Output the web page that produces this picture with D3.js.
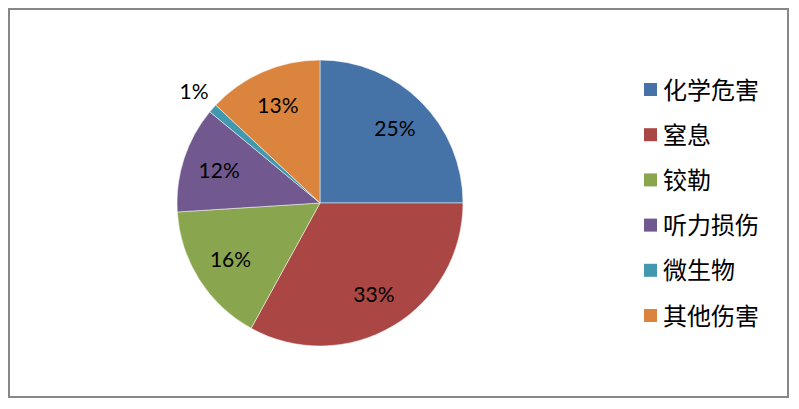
<!DOCTYPE html>
<html><head><meta charset="utf-8">
<script src="https://cdn.jsdelivr.net/npm/d3@7/dist/d3.min.js"></script>
<style>body{margin:0;background:#fff}</style>
</head><body>
<script>
const categories = ["化学危害","窒息","铰勒","听力损伤","微生物","其他伤害"];
const values = [25, 33, 16, 12, 1, 13];
const colors = ["#4572A7","#AA4643","#89A54E","#71588F","#4198AF","#DB843D"];

const W = 799, H = 409;
const svg = d3.select("body").append("svg").attr("width", W).attr("height", H);
svg.append("rect").attr("x", 9).attr("y", 9).attr("width", 779).attr("height", 388)
  .attr("fill", "#fff").attr("stroke", "#878787").attr("stroke-width", 2);

const cx = 320, cy = 203, R = 143;
const data = categories.map((c, i) => ({c, v: values[i], col: colors[i]}));
const pie = d3.pie().value(d => d.v).sort(null);
const arcs = pie(data);
const arc = d3.arc().innerRadius(0).outerRadius(R);
const g = svg.append("g").attr("transform", `translate(${cx},${cy})`);
g.selectAll("path").data(arcs).join("path").attr("d", arc).attr("fill", d => d.data.col)
  .attr("stroke", "#fff").attr("stroke-width", 0.5);

const labIn = d3.arc().innerRadius(106).outerRadius(106);
const labOut = d3.arc().innerRadius(168).outerRadius(168);
g.selectAll("text").data(arcs).join("text")
  .attr("transform", d => `translate(${(d.data.v < 5 ? labOut : labIn).centroid(d)})`)
  .attr("text-anchor", "middle").attr("dy", "0.36em")
  .attr("font-family", "Lato, 'Open Sans', sans-serif").attr("font-size", 21).attr("fill", "#000")
  .text(d => d.data.v + "%");

const lg = svg.append("g");
data.forEach((d, i) => {
  const y = 90 + i * 45.2;
  lg.append("rect").attr("x", 644).attr("y", y - 7).attr("width", 13).attr("height", 13).attr("fill", d.col);
  lg.append("text").attr("x", 663).attr("y", y).attr("dy", "0.36em")
    .attr("font-family", "'Noto Sans CJK SC', sans-serif").attr("font-size", 24).attr("fill", "#000")
    .text(d.c);
});
</script>
</body></html>
